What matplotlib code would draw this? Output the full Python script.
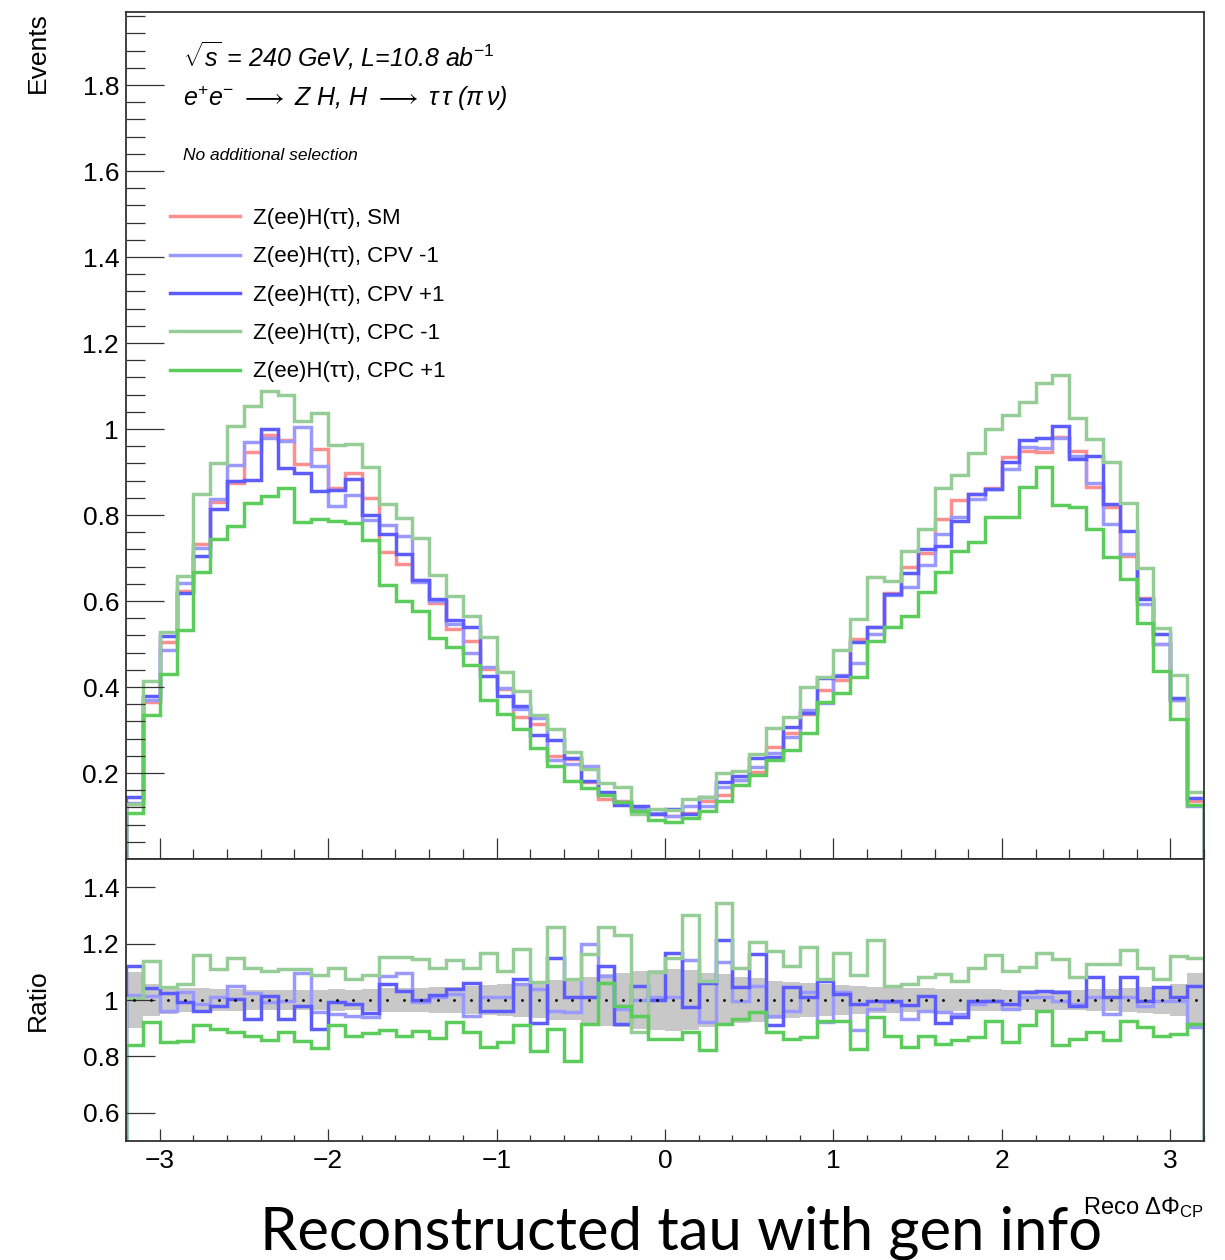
import numpy as np
import matplotlib.pyplot as plt
from matplotlib.lines import Line2D
from matplotlib.ticker import MultipleLocator, FuncFormatter

plt.rcParams['font.family'] = ['Liberation Sans', 'DejaVu Sans']
plt.rcParams['mathtext.fontset'] = 'custom'
plt.rcParams['mathtext.rm'] = 'Liberation Sans'
plt.rcParams['mathtext.it'] = 'Liberation Sans:italic'
plt.rcParams['mathtext.sf'] = 'Liberation Sans'

# 64 bins of width 0.1 between -3.2 and 3.2
edges = np.round(np.linspace(-3.2, 3.2, 65), 2)
centers = 0.5 * (edges[:-1] + edges[1:])

# SM yield per bin
sm = np.array([
    0.128, 0.364, 0.505, 0.624, 0.733, 0.830, 0.875, 0.947,
    0.986, 0.974, 0.918, 0.953, 0.864, 0.897, 0.839, 0.715,
    0.687, 0.650, 0.595, 0.536, 0.508, 0.443, 0.395, 0.331,
    0.315, 0.240, 0.232, 0.180, 0.140, 0.136, 0.118, 0.105,
    0.100, 0.108, 0.135, 0.148, 0.184, 0.203, 0.260, 0.294,
    0.337, 0.394, 0.417, 0.512, 0.540, 0.618, 0.678, 0.711,
    0.791, 0.836, 0.850, 0.862, 0.936, 0.950, 0.947, 0.981,
    0.950, 0.866, 0.819, 0.704, 0.606, 0.501, 0.370, 0.136,
])

# ratios to SM
r_cpv_m1 = np.array([
    1.018, 1.015, 0.962, 1.027, 0.986, 1.009, 1.048, 1.025,
    0.992, 0.998, 1.095, 0.959, 0.951, 0.945, 0.939, 1.086,
    1.095, 0.992, 1.009, 1.021, 0.945, 1.009, 1.009, 1.056,
    1.039, 0.962, 0.957, 1.197, 1.086, 0.968, 1.000, 1.010,
    1.009, 1.142, 0.921, 1.135, 0.998, 1.050, 0.945, 0.962,
    1.027, 0.921, 1.027, 0.892, 0.968, 0.992, 0.933, 0.962,
    0.956, 0.951, 0.986, 0.998, 0.968, 1.009, 1.009, 0.998,
    0.986, 1.009, 0.951, 1.009, 0.980, 0.998, 0.998, 0.904,
])
r_cpv_p1 = np.array([
    1.121, 1.041, 1.025, 0.992, 0.962, 0.980, 1.004, 0.931,
    1.015, 0.933, 0.978, 0.898, 0.992, 0.986, 0.954, 1.056,
    1.033, 1.000, 1.018, 1.039, 1.062, 0.962, 0.962, 1.074,
    0.919, 1.150, 1.012, 1.012, 1.121, 0.915, 1.048, 1.000,
    1.168, 0.974, 1.062, 1.213, 1.045, 1.162, 0.910, 1.045,
    1.009, 1.068, 1.021, 0.986, 0.998, 0.998, 0.982, 1.015,
    0.919, 0.939, 0.998, 0.998, 0.986, 1.027, 1.033, 1.027,
    0.979, 1.083, 1.009, 1.083, 0.998, 1.045, 1.009, 1.050,
])
r_cpc_m1 = np.array([
    1.006, 1.139, 1.045, 1.056, 1.159, 1.109, 1.150, 1.112,
    1.103, 1.109, 1.109, 1.088, 1.115, 1.076, 1.088, 1.154,
    1.154, 1.147, 1.112, 1.143, 1.112, 1.168, 1.103, 1.180,
    1.065, 1.260, 1.074, 1.162, 1.260, 1.229, 0.886, 1.100,
    1.150, 1.300, 1.068, 1.344, 1.115, 1.206, 1.174, 1.121,
    1.189, 1.076, 1.168, 1.088, 1.213, 1.048, 1.056, 1.080,
    1.092, 1.068, 1.112, 1.159, 1.103, 1.118, 1.168, 1.147,
    1.080, 1.127, 1.127, 1.177, 1.115, 1.074, 1.156, 1.150,
])
r_cpc_p1 = np.array([
    0.839, 0.921, 0.851, 0.853, 0.912, 0.898, 0.886, 0.874,
    0.857, 0.886, 0.853, 0.830, 0.910, 0.872, 0.884, 0.892,
    0.872, 0.889, 0.865, 0.921, 0.886, 0.834, 0.851, 0.910,
    0.819, 0.898, 0.783, 0.915, 1.062, 0.980, 0.945, 0.863,
    0.863, 0.886, 0.821, 0.915, 0.933, 0.959, 0.886, 0.863,
    0.868, 0.927, 0.927, 0.827, 0.939, 0.874, 0.833, 0.874,
    0.845, 0.857, 0.868, 0.924, 0.851, 0.910, 0.962, 0.839,
    0.863, 0.886, 0.857, 0.924, 0.904, 0.874, 0.880, 0.915,
])

# effective MC statistics per unit of normalised yield (for the SM band)
n_mc = 816.0

labels = ['Z(ee)H(\u03c4\u03c4), SM', 'Z(ee)H(\u03c4\u03c4), CPV -1',
          'Z(ee)H(\u03c4\u03c4), CPV +1', 'Z(ee)H(\u03c4\u03c4), CPC -1',
          'Z(ee)H(\u03c4\u03c4), CPC +1']
colors = ['#ff8f8f', '#9999ff', '#5c5cff', '#96cc96', '#5ccc5c']

ratios = [np.ones_like(sm), r_cpv_m1, r_cpv_p1, r_cpc_m1, r_cpc_p1]
hists = [sm * r for r in ratios]
sm_err = 1.0 / np.sqrt(sm * n_mc)

fig = plt.figure(figsize=(12.25, 12.6), dpi=100)
L, R = 126 / 1225, 1204 / 1225
y_mid = 1 - 859 / 1260
ax = fig.add_axes([L, y_mid, R - L, 1 - 12 / 1260 - y_mid])
rax = fig.add_axes([L, 1 - 1141 / 1260, R - L, y_mid - (1 - 1141 / 1260)])

lw = 2.5
for h, c in zip(hists, colors):
    ax.stairs(h, edges, baseline=0, color=c, lw=lw)

ax.set_xlim(-3.2, 3.2)
ax.set_ylim(0, 1.97)

# ratio panel
band_lo = np.append(1 - sm_err, 1 - sm_err[-1])
band_hi = np.append(1 + sm_err, 1 + sm_err[-1])
rax.fill_between(edges, band_lo, band_hi, step='post', color='#c8c8c8', lw=0)
rax.plot(centers, np.ones_like(centers), 'o', color='k', ms=1.0)
for r, c in zip(ratios[1:], colors[1:]):
    rax.stairs(r, edges, baseline=0, color=c, lw=lw)
rax.set_xlim(-3.2, 3.2)
rax.set_ylim(0.5, 1.5)

fmt = FuncFormatter(lambda v, p: '%g' % v)
for a in (ax, rax):
    for s in a.spines.values():
        s.set_linewidth(1.3)
        s.set_color('#333333')
    a.xaxis.set_major_locator(MultipleLocator(1))
    a.xaxis.set_minor_locator(MultipleLocator(0.2))
    a.yaxis.set_major_formatter(fmt)
    a.tick_params(which='both', direction='in', top=False, right=False,
                  width=0.9, color='#333333', labelsize=19)

ax.set_yticks(np.arange(0.2, 1.81, 0.2))
ax.yaxis.set_minor_locator(MultipleLocator(0.04))
ax.tick_params(axis='y', which='major', length=27, pad=5)
ax.tick_params(axis='y', which='minor', length=13.5)
ax.tick_params(axis='x', which='major', length=15, labelbottom=False)
ax.tick_params(axis='x', which='minor', length=7)

rax.set_yticks([0.6, 0.8, 1.0, 1.2, 1.4])
rax.tick_params(axis='y', which='major', length=21, pad=5)
rax.tick_params(axis='y', which='minor', length=0)
rax.tick_params(axis='x', which='major', length=8.5, pad=6)
rax.tick_params(axis='x', which='minor', length=4)

# legend
handles = [Line2D([], [], color=c, lw=2.5) for c in colors]
fig.legend(handles, labels, loc='upper left',
           bbox_to_anchor=(170 / 1225, 1 - 208 / 1260), frameon=False,
           fontsize=16, handlelength=3.15, handletextpad=0.6,
           labelspacing=0.78, borderpad=0, borderaxespad=0)

# header texts
fig.text(183 / 1225, 1 - 66 / 1260,
         r'$\sqrt{s}$ = 240 GeV, L=10.8 ab$^{\mathit{-1}}$',
         fontsize=18, style='italic', va='baseline')
fig.text(183 / 1225, 1 - 106 / 1260,
         r'e$^{+}$e$^{-}$ $\longrightarrow$ Z H, H $\longrightarrow$ $\tau\,\tau$ ($\pi\,\nu$)',
         fontsize=18, style='italic', va='baseline')
fig.text(183 / 1225, 1 - 160 / 1260, 'No additional selection',
         fontsize=12.5, style='italic', va='baseline')

fig.text(38 / 1225, 1 - 12 / 1260, 'Events', rotation=90,
         ha='center', va='top', fontsize=19)
fig.text(38 / 1225, 1 - 1000 / 1260, 'Ratio', rotation=90,
         ha='center', va='center', fontsize=19)
fig.text(1204 / 1225, 1 - 1214 / 1260, r'Reco $\Delta\Phi_{\mathrm{CP}}$',
         ha='right', va='baseline', fontsize=17)

fig.text(681 / 1225, 1 - 1250 / 1260, 'Reconstructed tau with gen info',
         ha='center', va='baseline', fontsize=43, family='Lato')

fig.savefig('out.png', dpi=100)
